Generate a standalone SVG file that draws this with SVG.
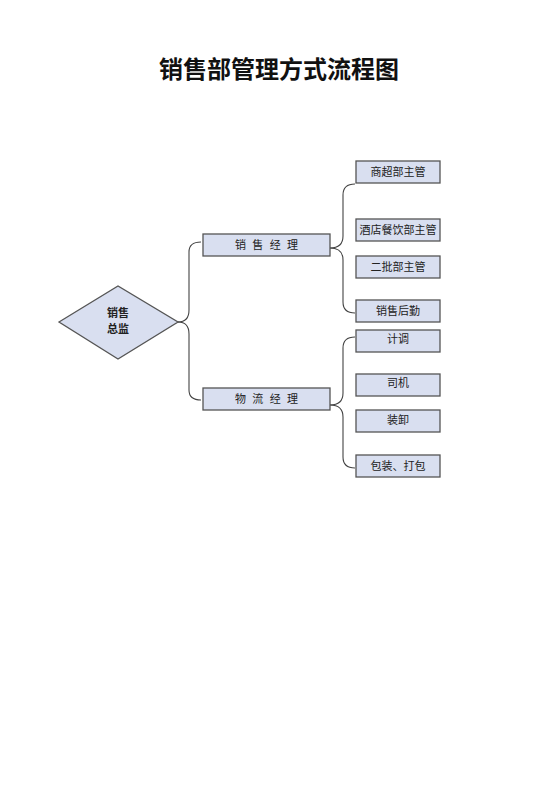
<svg xmlns="http://www.w3.org/2000/svg" width="560" height="792" viewBox="0 0 560 792">
<style>
.box{fill:#D9DFF0;stroke:#555;stroke-width:1.3}
.t{font-family:"Noto Sans CJK SC","Liberation Sans",sans-serif;font-size:11px;fill:#222;text-anchor:middle}
.c{fill:none;stroke:#444;stroke-width:1.1}
</style>
<rect width="560" height="792" fill="#fff"/>
<text x="279" y="78" font-family="Noto Sans CJK SC, Liberation Sans, sans-serif" font-size="24" font-weight="bold" text-anchor="middle" fill="#111">销售部管理方式流程图</text>
<g id="connectors">
<path class="c" d="M178,322 Q189,322 189,310 L189,252 Q189,242 201,242"/>
<path class="c" d="M178,322 Q189,322 189,334 L189,390 Q189,400 201,400"/>
<path class="c" d="M330,248 Q343,248 343,236 L343,195 Q343,184 355,184"/>
<path class="c" d="M330,248 Q343,248 343,260 L343,302 Q343,313 355,313"/>
<path class="c" d="M330,405 Q343,405 343,393 L343,348 Q343,337 355,337"/>
<path class="c" d="M330,405 Q343,405 343,417 L343,457 Q343,468 355,468"/>
</g>
<g id="n_zongjian">
<polygon class="box" points="59,322 118,286 178,322 118,359"/>
<text class="t" x="118" y="317" font-weight="bold">销售</text>
<text class="t" x="118" y="333" font-weight="bold">总监</text>
</g>
<g id="n_xiaoshou">
<rect class="box" x="203" y="234" width="127" height="22"/>
<text class="t" x="266.5" y="249" textLength="63" lengthAdjust="spacing">销 售 经 理</text>
</g>
<g id="n_wuliu">
<rect class="box" x="203" y="388" width="127" height="22"/>
<text class="t" x="266.5" y="403" textLength="63" lengthAdjust="spacing">物 流 经 理</text>
</g>
<g id="n1"><rect class="box" x="356" y="161" width="84" height="22"/><text class="t" x="398" y="176">商超部主管</text></g>
<g id="n2"><rect class="box" x="356" y="219" width="84" height="22"/><text class="t" x="398" y="234">酒店餐饮部主管</text></g>
<g id="n3"><rect class="box" x="356" y="256" width="84" height="22"/><text class="t" x="398" y="271">二批部主管</text></g>
<g id="n4"><rect class="box" x="356" y="300" width="84" height="22"/><text class="t" x="398" y="315">销售后勤</text></g>
<g id="n5"><rect class="box" x="356" y="330" width="84" height="22"/><text class="t" x="398" y="343">计调</text></g>
<g id="n6"><rect class="box" x="356" y="374" width="84" height="22"/><text class="t" x="398" y="387">司机</text></g>
<g id="n7"><rect class="box" x="356" y="410" width="84" height="22"/><text class="t" x="398" y="424">装卸</text></g>
<g id="n8"><rect class="box" x="356" y="455" width="84" height="22"/><text class="t" x="398" y="470">包装、打包</text></g>
</svg>
